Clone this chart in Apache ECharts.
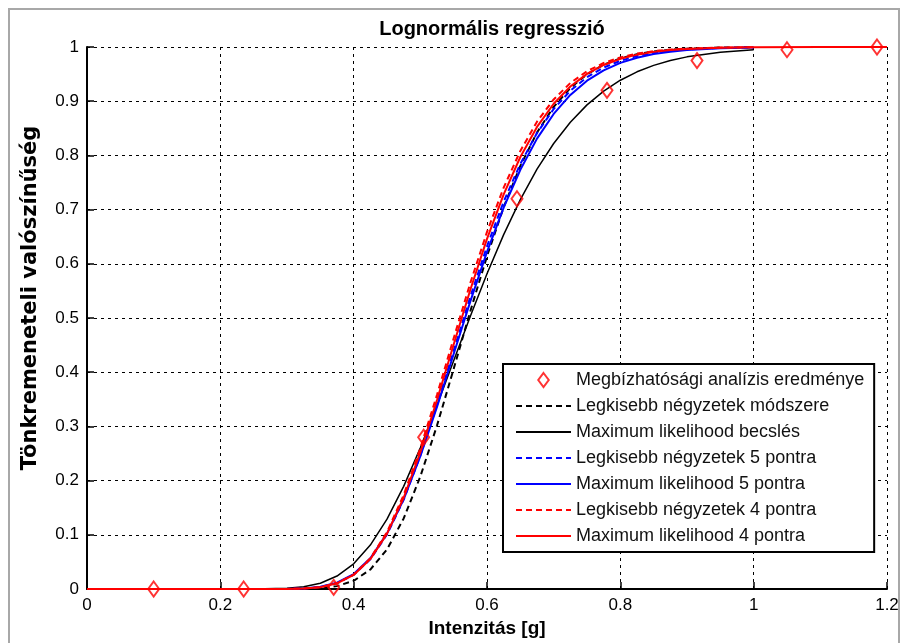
<!DOCTYPE html>
<html>
<head>
<meta charset="utf-8">
<script src="https://cdn.jsdelivr.net/npm/echarts@6/dist/echarts.min.js"></script>
<style>html,body{margin:0;padding:0;background:#fff}#c{width:907px;height:643px}</style>
</head>
<body>
<div id="c"></div>
<script>
// Reliability analysis points
const ptX = [0.1, 0.235, 0.37, 0.505, 0.645, 0.78, 0.915, 1.05, 1.185];
const ptY = [0, 0, 0.003, 0.28, 0.72, 0.92, 0.975, 0.995, 1.0];

// x positions of fitted curves
const xFit = [0.13, 0.2, 0.25, 0.3, 0.325, 0.35, 0.375, 0.4, 0.425, 0.45, 0.475, 0.5, 0.525, 0.55, 0.575, 0.6, 0.625, 0.65, 0.675, 0.7, 0.725, 0.75, 0.775, 0.8, 0.825, 0.85, 0.875, 0.9, 0.95, 1.0];
const xRed = [0, 0.1, 0.2, 0.25, 0.3, 0.325, 0.35, 0.375, 0.4, 0.425, 0.45, 0.475, 0.5, 0.525, 0.55, 0.575, 0.6, 0.625, 0.65, 0.675, 0.7, 0.725, 0.75, 0.775, 0.8, 0.825, 0.85, 0.875, 0.9, 0.95, 1.0, 1.1, 1.2];

const lsAll = [0,0,0, 0.0000,0.0003,0.0015,0.0053,0.0151,0.0359,0.0730,0.1301,0.2075,0.3015,0.4061,0.5126,0.6140,0.7044,0.7807,0.8422,0.8895,0.9245,0.9497,0.9672,0.9790,0.9868,0.9918,0.9950,0.9970,0.9989,0.9996];
const mlAll = [0,0,0.0001, 0.0013,0.0041,0.0107,0.0239,0.0465,0.0810,0.1288,0.1894,0.2605,0.3390,0.4213,0.5032,0.5816,0.6539,0.7184,0.7746,0.8220,0.8613,0.8932,0.9187,0.9387,0.9542,0.9661,0.9751,0.9818,0.9904,0.9951];
const ls5 = [0,0,0, 0.0002,0.0009,0.0036,0.0106,0.0262,0.0548,0.1005,0.1648,0.2462,0.3398,0.4400,0.5392,0.6322,0.7146,0.7844,0.8412,0.8856,0.9193,0.9442,0.9621,0.9746,0.9833,0.9891,0.9930,0.9955,0.9982,0.9993];
const ml5 = [0,0,0, 0.0002,0.0011,0.0040,0.0116,0.0276,0.0566,0.1021,0.1654,0.2449,0.3361,0.4337,0.5307,0.6221,0.7037,0.7735,0.8310,0.8765,0.9116,0.9378,0.9570,0.9707,0.9803,0.9870,0.9914,0.9944,0.9977,0.9991];
const ls4 = [0,0,0, 0.0002,0.0009,0.0034,0.0105,0.0265,0.0566,0.1050,0.1734,0.2596,0.3583,0.4627,0.5647,0.6588,0.7406,0.8083,0.8622,0.9032,0.9336,0.9553,0.9705,0.9809,0.9878,0.9923,0.9952,0.9970,0.9989,0.9996];
const ml4 = [0,0,0,0, 0.0002,0.0009,0.0034,0.0104,0.0260,0.0552,0.1021,0.1684,0.2523,0.3486,0.4511,0.5521,0.6459,0.7281,0.7971,0.8525,0.8953,0.9272,0.9504,0.9669,0.9782,0.9859,0.9910,0.9943,0.9964,0.9987,0.9995,1.0,1.0];

const names = ['Megbízhatósági analízis eredménye','Legkisebb négyzetek módszere','Maximum likelihood becslés','Legkisebb négyzetek 5 pontra','Maximum likelihood 5 pontra','Legkisebb négyzetek 4 pontra','Maximum likelihood 4 pontra'];
const yTitle = 'Tönkremeneteli valószínűség';

const zip = (xs, ys) => xs.map((x, i) => [x, ys[i]]);
const FONT = "'Liberation Sans', Arial, sans-serif";
const WIDE = "'DejaVu Sans', 'Liberation Sans', sans-serif";

function lineSeries(name, xs, ys, color, dashed, width, z) {
  return {
    name, type: 'line', data: zip(xs, ys), symbol: 'none', showSymbol: false,
    lineStyle: { color, width, type: dashed ? [6, 4] : 'solid' },
    itemStyle: { color },
    z, animation: false
  };
}

const legendData = names.map((n, i) => i === 0
  ? { name: n, icon: 'path://M6,0 L12,8 L6,16 L0,8 Z',
      itemStyle: { color: 'rgba(255,255,255,0)', borderColor: '#ff0000', borderWidth: 2 } }
  : { name: n, itemStyle: { color: 'rgba(0,0,0,0)', borderWidth: 0, borderColor: 'rgba(0,0,0,0)' } });

const chart = echarts.init(document.getElementById('c'), null, { renderer: 'canvas' });
chart.setOption({
  backgroundColor: '#fff',
  animation: false,
  title: {
    text: 'Lognormális regresszió', left: 487, top: 14, textAlign: 'center',
    textStyle: { fontFamily: FONT, fontWeight: 'bold', fontSize: 20, color: '#000' }
  },
  graphic: [{
    type: 'rect', shape: { x: 9, y: 9, width: 890, height: 650 },
    style: { fill: 'none', stroke: '#a8a8a8', lineWidth: 2 }, silent: true, z: -1
  }, {
    type: 'text', x: 31, y: 298, rotation: Math.PI / 2, silent: true,
    style: { text: yTitle, font: "bold 21px 'DejaVu Sans', 'Liberation Sans', sans-serif",
             fill: '#000', align: 'center', verticalAlign: 'middle' }
  }],
  grid: { left: 87, right: 20, top: 47, bottom: 53 },
  legend: {
    orient: 'vertical', left: 503, top: 364,
    data: legendData,
    symbolKeepAspect: true,
    backgroundColor: '#fff', borderColor: '#000', borderWidth: 2,
    padding: [7, 10, 7, 12],
    itemWidth: 55, itemHeight: 14, itemGap: 8,
    textStyle: { fontFamily: FONT, fontSize: 18, color: '#111', lineHeight: 18 }
  },
  xAxis: {
    type: 'value', min: 0, max: 1.2, interval: 0.2,
    name: 'Intenzitás [g]', nameLocation: 'middle', nameGap: 30,
    nameTextStyle: { fontFamily: FONT, fontWeight: 'bold', fontSize: 19, color: '#000' },
    axisLine: { show: true, onZero: false, lineStyle: { color: '#000', width: 2 } },
    axisTick: { show: true, inside: true, length: 7, lineStyle: { color: '#000', width: 1.5 } },
    axisLabel: { fontFamily: FONT, fontSize: 17, color: '#000', margin: 8 },
    splitLine: { show: true, lineStyle: { color: '#000', width: 1, type: [3, 4] } }
  },
  yAxis: {
    type: 'value', min: 0, max: 1, interval: 0.1,
    axisLine: { show: true, onZero: false, lineStyle: { color: '#000', width: 2 } },
    axisTick: { show: true, inside: true, length: 7, lineStyle: { color: '#000', width: 1.5 } },
    axisLabel: { fontFamily: FONT, fontSize: 17, color: '#000', margin: 8 },
    splitLine: { show: true, lineStyle: { color: '#000', width: 1, type: [3, 4] } }
  },
  series: [
    lineSeries(names[1], xFit, lsAll, '#000', true, 2, 2),
    lineSeries(names[2], xFit, mlAll, '#000', false, 1.5, 2),
    lineSeries(names[3], xFit, ls5, '#0000ff', true, 2, 3),
    lineSeries(names[4], xFit, ml5, '#0000ff', false, 2, 3),
    lineSeries(names[5], xFit, ls4, '#ff0000', true, 2, 4),
    lineSeries(names[6], xRed, ml4, '#ff0000', false, 2, 4),
    {
      name: names[0], type: 'scatter', data: zip(ptX, ptY),
      symbol: 'diamond', symbolSize: [11, 15],
      itemStyle: { color: 'rgba(255,255,255,0)', borderColor: '#ff0000', borderWidth: 2 },
      z: 5, clip: false
    }
  ]
});
</script>
</body>
</html>
